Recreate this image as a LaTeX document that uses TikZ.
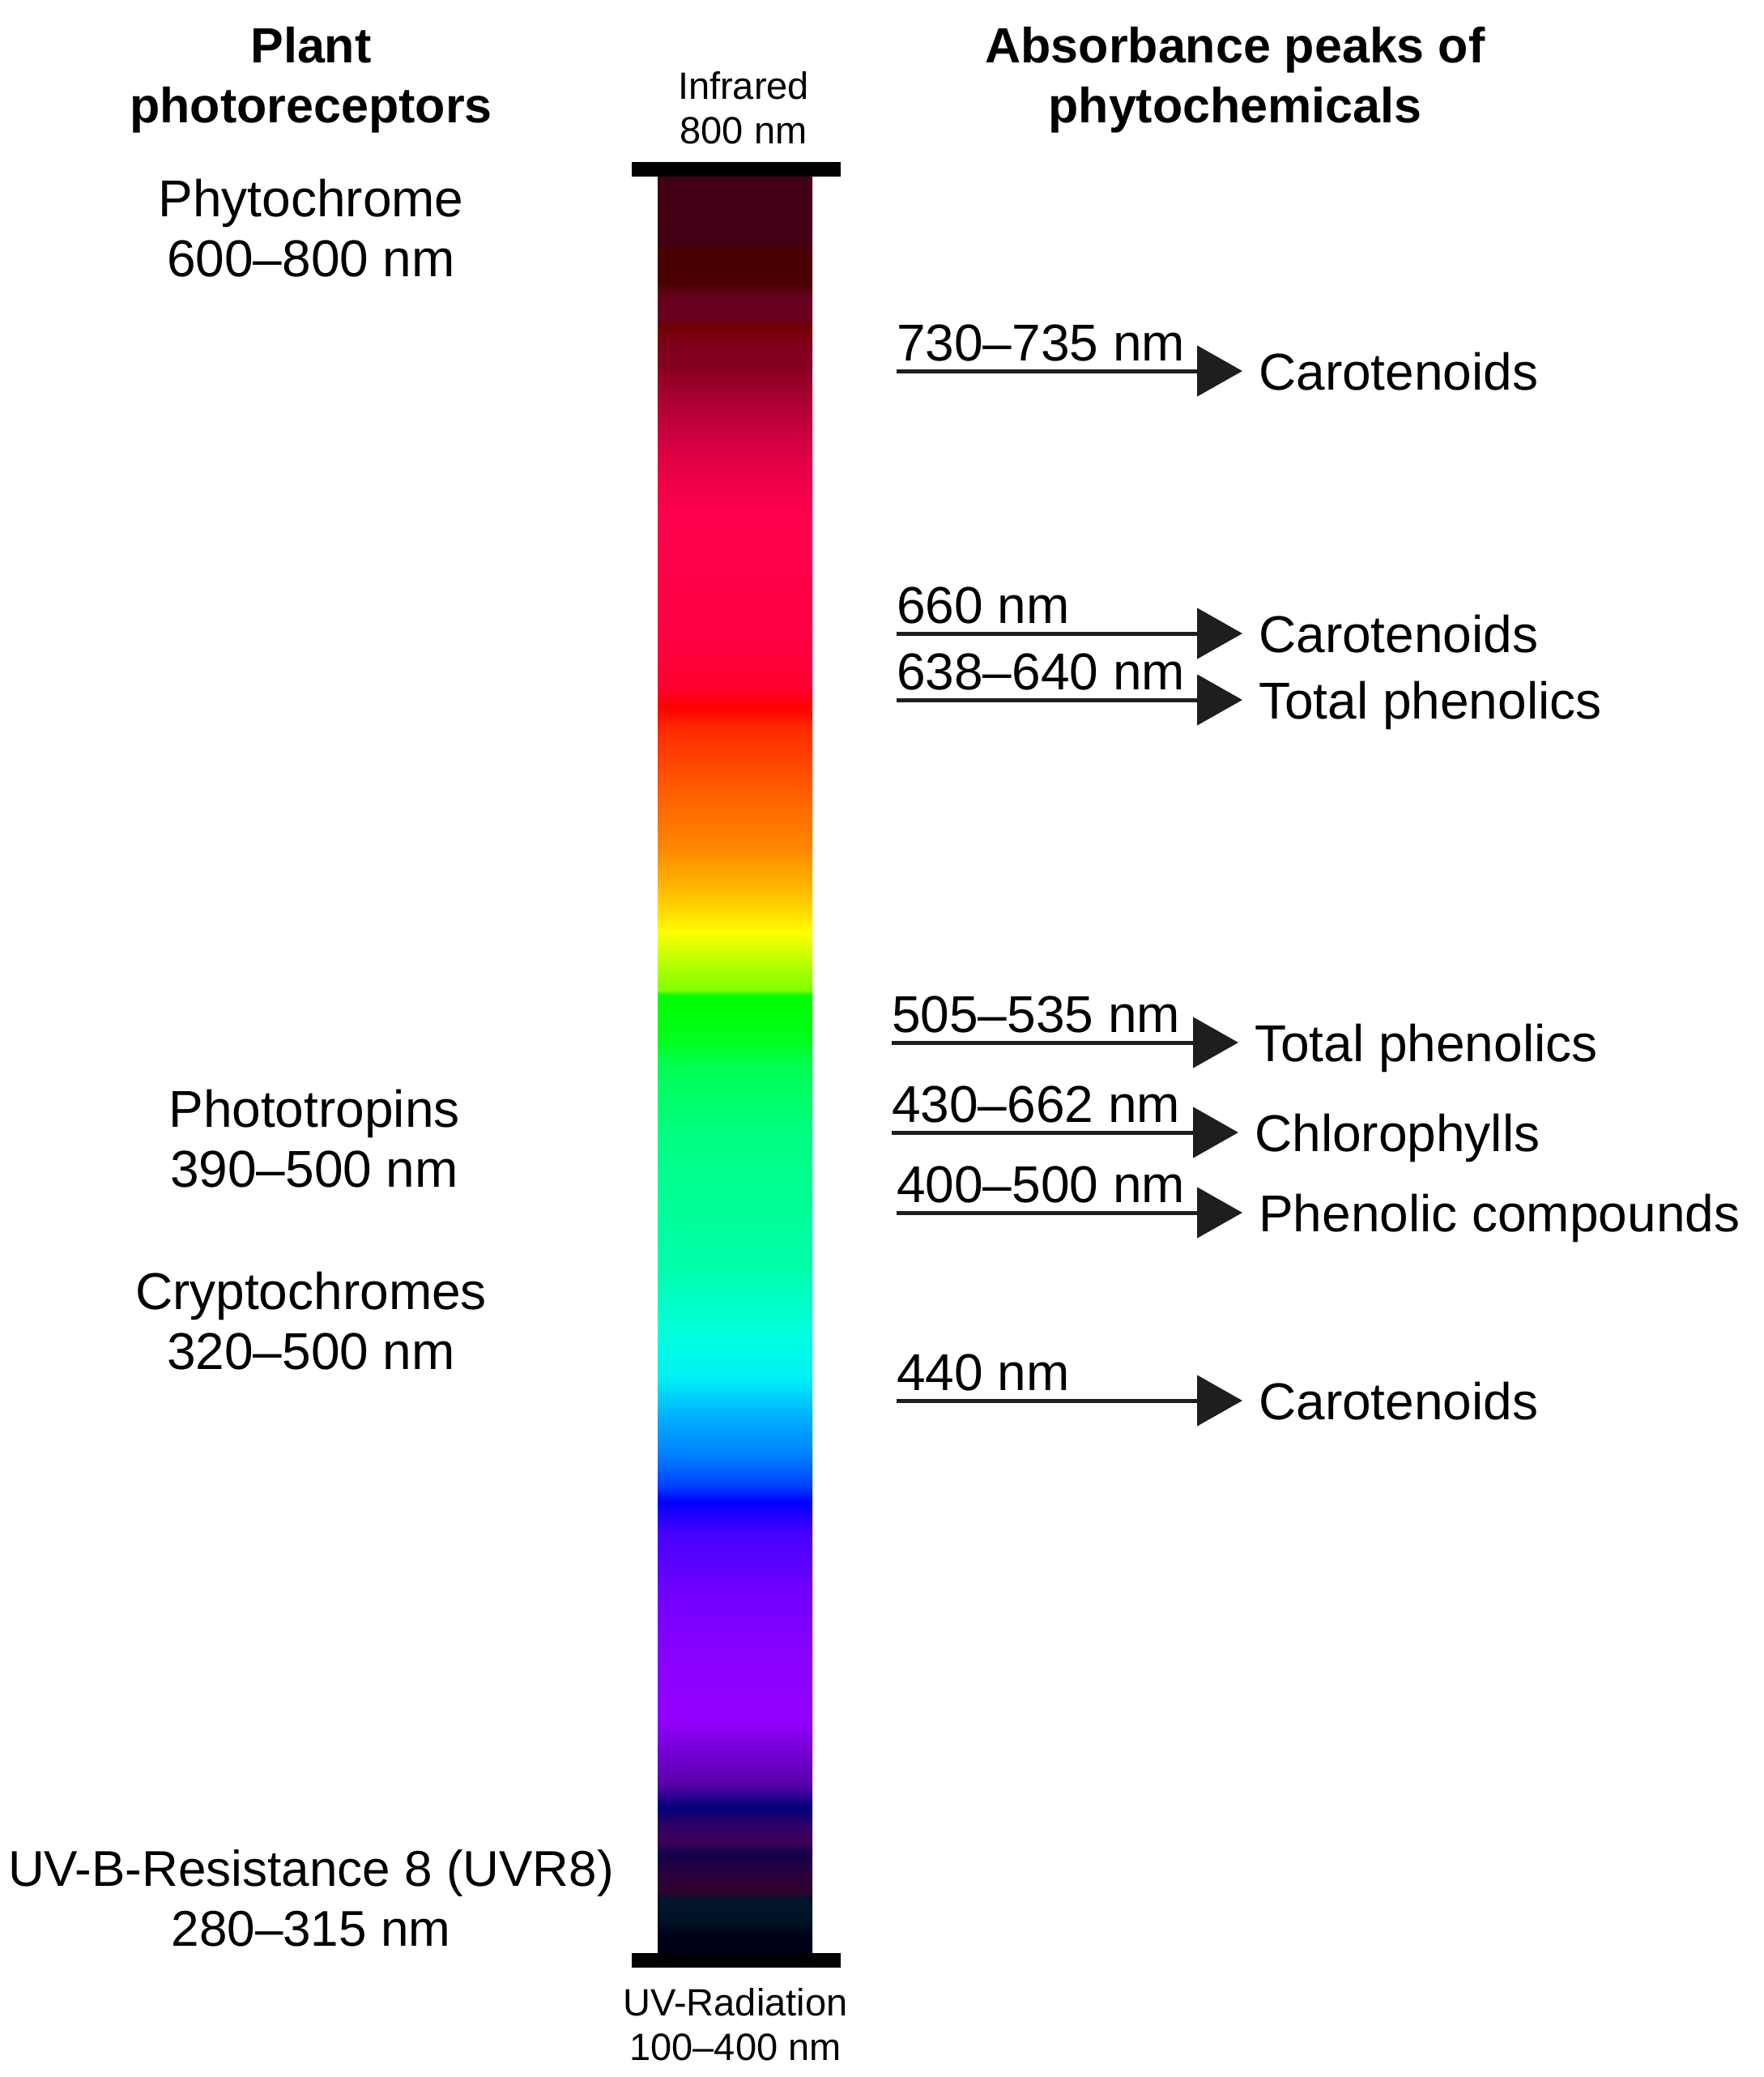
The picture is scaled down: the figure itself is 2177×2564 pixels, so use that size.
\documentclass[tikz,border=0pt]{standalone}
\usepackage{fontspec}
\setmainfont{Liberation Sans}
\usetikzlibrary{arrows.meta}
\definecolor{arrowc}{HTML}{1E1E1E}
\tikzset{
  lbl/.style={font=\fontsize{64}{74}\selectfont, align=center, inner sep=0pt},
  ttl/.style={font=\bfseries\fontsize{61}{74}\selectfont, align=center, inner sep=0pt},
  smalllbl/.style={font=\fontsize{47}{55}\selectfont, align=center, inner sep=0pt},
  nmlbl/.style={font=\fontsize{64}{74}\selectfont, anchor=base west, inner sep=0pt},
  tgt/.style={font=\fontsize{64}{74}\selectfont, anchor=west, inner sep=0pt, text height=46pt, text depth=0pt},
  arr/.style={line width=5pt, draw=arrowc, -{Triangle[length=56pt,width=62pt]}, shorten >=20pt},
  capbar/.style={fill=black},
}
\begin{document}
\begin{tikzpicture}[x=1pt,y=-1pt]
\useasboundingbox (0,0) rectangle (2177,2564);
% spectrum bar
\foreach \ya/\ha/\yb/\hb in {
218/420015/300/420015, 300/420015/310/4A0000, 310/4A0000/350/4A0000,
350/4A0000/365/650020, 365/650020/393/6A0020, 393/6A0020/403/700000,
403/700000/427/800020, 427/800020/450/85001F, 450/85001F/500/B00035,
500/B00035/566/E00045, 566/E00045/632/FF004D, 632/FF004D/773/FF0045,
773/FF0045/848/FF0030, 848/FF0030/873/FF0000, 873/FF0000/897/FF2800,
897/FF2800/980/FF6000, 980/FF6000/1047/FF8800, 1047/FF8800/1088/FFB000,
1088/FFB000/1130/FFE000, 1130/FFE000/1150/FFFF00, 1150/FFFF00/1196/AAFF00,
1196/AAFF00/1222/80FF00, 1222/80FF00/1228/00FF00, 1228/00FF00/1287/00FF20,
1287/00FF20/1312/00FF50, 1312/00FF50/1395/00FF80, 1395/00FF80/1561/00FFAA,
1561/00FFAA/1644/00FFDD, 1644/00FFDD/1700/00F0F5, 1700/00F0F5/1748/00B0FF,
1748/00B0FF/1796/0080FF, 1796/0080FF/1834/0040FF, 1834/0040FF/1853/0000FF,
1853/0000FF/1891/4400FF, 1891/4400FF/1963/7000FF, 1963/7000FF/2035/8800FF,
2035/8800FF/2121/9200FF, 2121/9200FF/2155/7A00DD, 2155/7A00DD/2202/5800A8,
2202/5800A8/2231/000078, 2231/000078/2255/350065, 2255/350065/2274/3A0058,
2274/3A0058/2288/10004A, 2288/10004A/2308/280040, 2308/280040/2332/300030,
2332/300030/2346/001528, 2346/001528/2370/001426, 2370/001426/2389/000018,
2389/000018/2412/000015}{
  \definecolor{ca}{HTML}{\ha}\definecolor{cb}{HTML}{\hb}
  \shade[top color=ca, bottom color=cb] (812,\ya) rectangle (1003,\yb+0.8);
}
\fill[capbar] (780,200) rectangle (1038,218);
\fill[capbar] (780,2411) rectangle (1038,2429);

% titles
\node[ttl] (t1) at (384,99) {Plant\\photoreceptors};
\node[ttl] (t2) at (1525,99) {Absorbance peaks of\\phytochemicals};
\node[smalllbl] (ir) at (918,133) {Infrared\\800 nm};
\node[smalllbl] (uv) at (908,2499) {UV-Radiation\\100\textendash400 nm};

% left labels
\node[lbl] (p1) at (384,282) {Phytochrome\\600\textendash800 nm};
\node[lbl] (p2) at (388,1406) {Phototropins\\390\textendash500 nm};
\node[lbl] (p3) at (384,1631) {Cryptochromes\\320\textendash500 nm};
\node[lbl, font=\fontsize{62}{74}\selectfont] (p4) at (384,2343) {UV-B-Resistance 8 (UVR8)\\280\textendash315 nm};

% arrows
\foreach \i/\x/\y/\tx/\lab/\tgt in {
 1/1107/458/1554/730\textendash735 nm/Carotenoids,
 2/1107/782/1554/660 nm/Carotenoids,
 3/1107/864/1554/638\textendash640 nm/Total phenolics,
 4/1101/1287/1549/505\textendash535 nm/Total phenolics,
 5/1101/1398/1549/430\textendash662 nm/Chlorophylls,
 6/1107/1497/1554/400\textendash500 nm/Phenolic compounds,
 7/1107/1729/1554/440 nm/Carotenoids}{
  \coordinate (s\i) at (\x,\y);
  \node[tgt] (c\i) at (\tx,\y) {\tgt};
  \node[nmlbl] (n\i) at (\x,\y-13) {\lab};
  \draw[arr] (s\i) -- (c\i.west);
}
\end{tikzpicture}
\end{document}
